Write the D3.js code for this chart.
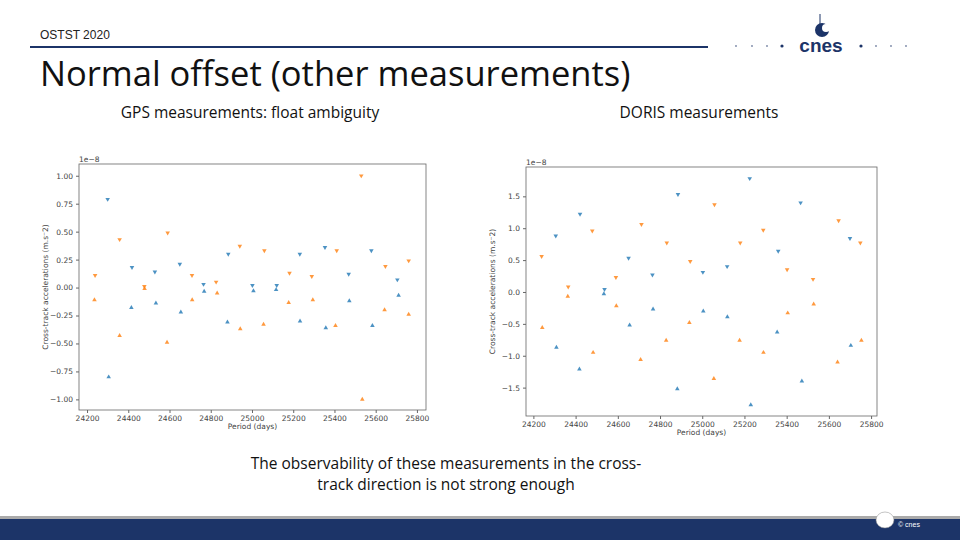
<!DOCTYPE html>
<html><head><meta charset="utf-8">
<script src="https://cdn.jsdelivr.net/npm/d3@7"></script>
<style>body{margin:0;background:#fff}svg{display:block}</style>
</head><body>
<svg id="s" width="960" height="540"></svg>
<script>
// GPS (float ambiguity) – units 1e-8
const gpsBlue = [[24300,0.79],[24305,-0.80],[24418,0.18],[24415,-0.18],[24529,0.14],[24534,-0.14],[24650,0.21],[24655,-0.22],[24765,0.03],[24768,-0.035],[24885,0.30],[24881,-0.31],[25002,0.02],[25007,-0.03],[25120,0.02],[25117,-0.02],[25232,0.30],[25233,-0.30],[25354,0.36],[25358,-0.36],[25469,0.12],[25472,-0.12],[25579,0.33],[25584,-0.34],[25705,0.07],[25711,-0.07]];
const gpsOrange = [[24239,0.11],[24236,-0.11],[24358,0.43],[24358,-0.43],[24478,0.01],[24479,-0.01],[24591,0.49],[24588,-0.49],[24709,0.11],[24710,-0.11],[24826,0.05],[24831,-0.05],[24941,0.37],[24943,-0.37],[25060,0.33],[25056,-0.33],[25182,0.13],[25178,-0.135],[25290,0.10],[25295,-0.11],[25411,0.33],[25405,-0.34],[25530,1.0],[25535,-1.0],[25647,0.19],[25643,-0.20],[25760,0.24],[25760,-0.24]];
// DORIS
const dorisBlue = [[24306,0.88],[24309,-0.87],[24421,1.22],[24418,-1.21],[24537,0.04],[24534,-0.03],[24651,0.53],[24656,-0.52],[24764,0.27],[24767,-0.27],[24885,1.53],[24882,-1.52],[25003,0.31],[25005,-0.30],[25118,0.40],[25119,-0.39],[25225,1.78],[25230,-1.77],[25360,0.64],[25355,-0.63],[25466,1.40],[25472,-1.40],[25700,0.84],[25704,-0.84]];
const dorisOrange = [[24239,0.56],[24242,-0.56],[24365,0.08],[24363,-0.07],[24479,0.96],[24483,-0.95],[24591,0.23],[24593,-0.22],[24712,1.06],[24708,-1.06],[24832,0.77],[24829,-0.76],[24943,0.48],[24939,-0.48],[25058,1.37],[25055,-1.36],[25180,0.77],[25177,-0.76],[25289,0.97],[25290,-0.95],[25402,0.35],[25405,-0.33],[25525,0.20],[25528,-0.19],[25646,1.12],[25641,-1.10],[25749,0.77],[25754,-0.76]];
const gpsXTicks=[24200,24400,24600,24800,25000,25200,25400,25600,25800];
const gpsYTicks=[-1,-0.75,-0.5,-0.25,0,0.25,0.5,0.75,1];
const dorisXTicks=[24200,24400,24600,24800,25000,25200,25400,25600,25800];
const dorisYTicks=[-1.5,-1,-0.5,0,0.5,1,1.5];

const svg=d3.select("#s");
const navy="#1c3468";
const F="Open Sans, Liberation Sans";
// header
svg.append("text").attr("x",40).attr("y",39).attr("font-family","Liberation Sans, Arial").attr("font-size",12).attr("fill","#222").text("OSTST 2020");
svg.append("line").attr("x1",30).attr("x2",708).attr("y1",47).attr("y2",47).attr("stroke",navy).attr("stroke-width",2);
svg.append("text").attr("x",40).attr("y",86).attr("font-family",F).attr("font-size",34.5).attr("fill","#111").text("Normal offset (other measurements)");
svg.append("text").attr("x",250).attr("y",118).attr("text-anchor","middle").attr("font-family",F).attr("font-size",15.5).attr("fill","#111").text("GPS measurements: float ambiguity");
svg.append("text").attr("x",699).attr("y",118).attr("text-anchor","middle").attr("font-family",F).attr("font-size",15.5).attr("fill","#111").text("DORIS measurements");
svg.append("text").attr("x",446).attr("y",469).attr("text-anchor","middle").attr("font-family",F).attr("font-size",15.5).attr("fill","#111").text("The observability of these measurements in the cross-");
svg.append("text").attr("x",446).attr("y",490).attr("text-anchor","middle").attr("font-family",F).attr("font-size",15.5).attr("fill","#111").text("track direction is not strong enough");
// logo
[736,752,767,782,861,876,891,906].forEach((x,i)=>svg.append("circle").attr("cx",x).attr("cy",46).attr("r",(i==3||i==4)?1.6:0.9).attr("fill",navy).attr("opacity",(i==3||i==4)?1:0.6));
svg.append("text").attr("x",821).attr("y",52).attr("text-anchor","middle").attr("font-family","Liberation Sans, Arial").attr("font-weight","bold").attr("font-size",19).attr("fill",navy).text("cnes");
svg.append("circle").attr("cx",822).attr("cy",30).attr("r",7).attr("fill",navy);
svg.append("circle").attr("cx",826).attr("cy",28).attr("r",4).attr("fill","#fff");
svg.append("line").attr("x1",820).attr("x2",820).attr("y1",14).attr("y2",24).attr("stroke",navy).attr("stroke-width",1);
// footer
svg.append("rect").attr("x",0).attr("y",516).attr("width",960).attr("height",3).attr("fill","#aaa");
svg.append("rect").attr("x",0).attr("y",519).attr("width",960).attr("height",21).attr("fill",navy);
svg.append("ellipse").attr("cx",885).attr("cy",520).attr("rx",9).attr("ry",8).attr("fill","#fff").attr("stroke","#888").attr("stroke-width",0.5);
svg.append("text").attr("x",898).attr("y",527).attr("font-family","Liberation Sans, Arial").attr("font-size",7).attr("fill","#fff").text("© cnes");

function plot(o){
  const g=svg.append("g");
  const x=d3.scaleLinear().domain(o.xd).range([o.l,o.r]);
  const y=d3.scaleLinear().domain(o.yd).range([o.b,o.t]);
  g.append("rect").attr("x",o.l).attr("y",o.t).attr("width",o.r-o.l).attr("height",o.b-o.t).attr("fill","none").attr("stroke","#666").attr("stroke-width",0.8);
  const ax=g.append("g").attr("transform",`translate(0,${o.b})`).call(d3.axisBottom(x).tickValues(o.xt).tickSize(3).tickFormat(d3.format("d")));
  const ay=g.append("g").attr("transform",`translate(${o.l},0)`).call(d3.axisLeft(y).tickValues(o.yt).tickSize(3).tickFormat(o.yf));
  [ax,ay].forEach(a=>{a.select(".domain").remove();a.selectAll("text").attr("font-family","DejaVu Sans").attr("font-size",7.5).attr("fill","#444");a.selectAll("line").attr("stroke","#666");});
  g.append("text").attr("x",o.l).attr("y",o.t-2).attr("font-family","DejaVu Sans").attr("font-size",7.5).attr("fill","#444").text("1e−8");
  g.append("text").attr("x",(o.l+o.r)/2).attr("y",o.b+19).attr("text-anchor","middle").attr("font-family","DejaVu Sans").attr("font-size",7.5).attr("fill","#444").text("Period (days)");
  g.append("text").attr("transform",`translate(${o.l-31},${(o.t+o.b)/2}) rotate(-90)`).attr("text-anchor","middle").attr("font-family","DejaVu Sans").attr("font-size",7.5).attr("fill","#444").text("Cross-track accelerations  (m.s⁻2)");
  const tri=d3.symbol().type(d3.symbolTriangle).size(9);
  [[o.blue,"#1f77b4"],[o.orange,"#ff7f0e"]].forEach(([data,c])=>{
    g.selectAll(null).data(data).join("path").attr("d",tri)
     .attr("transform",d=>`translate(${x(d[0])},${y(d[1])}) rotate(${d[1]>0?180:0})`).attr("fill",c).attr("opacity",0.8);
  });
}
plot({l:79,r:426,t:164,b:410,xd:[24161,25844],yd:[-1.095,1.105],xt:gpsXTicks,yt:gpsYTicks,yf:d3.format(".2f"),blue:gpsBlue,orange:gpsOrange});
plot({l:526,r:877,t:167,b:416,xd:[24165,25828],yd:[-1.945,1.96],xt:dorisXTicks,yt:dorisYTicks,yf:d3.format(".1f"),blue:dorisBlue,orange:dorisOrange});
</script>
</body></html>
